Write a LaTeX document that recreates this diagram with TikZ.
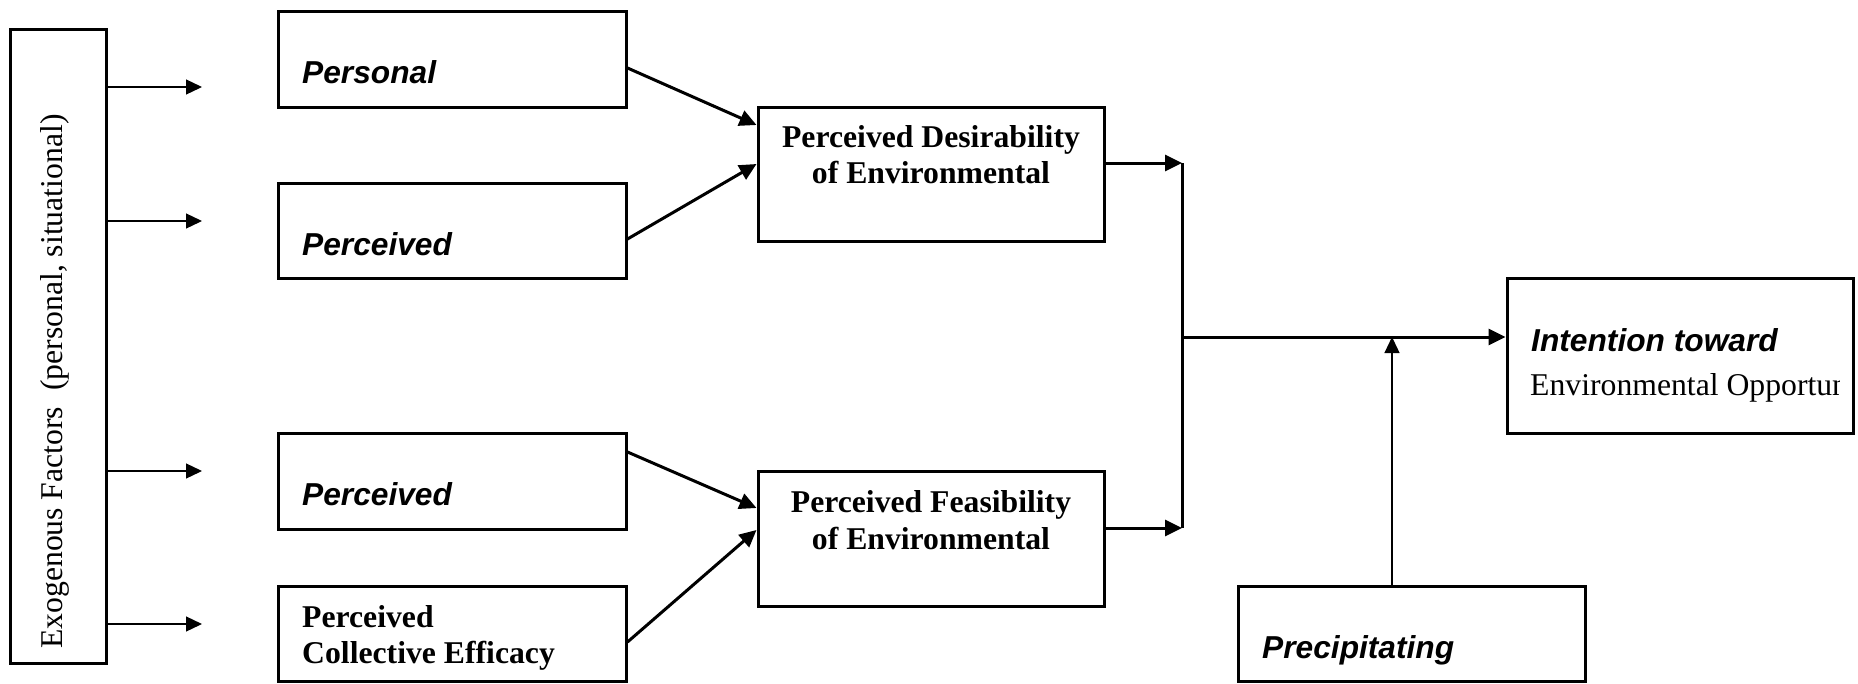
\documentclass[tikz,border=0pt]{standalone}
\usepackage{fontspec}
\setmainfont{Liberation Serif}
\setsansfont{Liberation Sans}
\usetikzlibrary{arrows.meta}
\begin{document}
\begin{tikzpicture}[x=1pt,y=-1pt,
  box/.style={draw,line width=3pt,rectangle,inner sep=0pt},
  sansit/.style={font=\fontsize{31.7pt}{36pt}\selectfont\sffamily\bfseries\itshape,inner sep=0pt},
  serifb/.style={font=\fontsize{31.7pt}{36pt}\selectfont\bfseries,inner sep=0pt},
  serifr/.style={font=\fontsize{31.7pt}{36pt}\selectfont,inner sep=0pt},
  thinarrow/.style={line width=1.3pt,-{Triangle[length=16pt,width=15pt]}},
  thickarrow/.style={line width=3pt,-{Triangle[length=17pt,width=16pt]}},
  thickline/.style={line width=3pt},
]
\useasboundingbox (0,0) rectangle (1858,683);

% boxes
\node[box,minimum width=96pt,minimum height=634pt] (exog) at (58,346) {};
\node[box,minimum width=348pt,minimum height=96pt] (personal) at (452,59) {};
\node[box,minimum width=348pt,minimum height=95pt] (perc1) at (452,230.5) {};
\node[box,minimum width=348pt,minimum height=96pt] (perc2) at (452,481) {};
\node[box,minimum width=348pt,minimum height=95pt] (coll) at (452,633.5) {};
\node[box,minimum width=346pt,minimum height=134pt] (pd) at (931,174) {};
\node[box,minimum width=346pt,minimum height=135pt] (pf) at (931,538.5) {};
\node[box,minimum width=346pt,minimum height=155pt] (intent) at (1680,355.5) {};
\node[box,minimum width=347pt,minimum height=95pt] (precip) at (1411.5,633.5) {};

% texts
\node[serifr,rotate=90,anchor=base west] (exogT) at (62,649) {Exogenous Factors\ \ (personal, situational)};
\node[sansit,anchor=base west] (personalT) at (302,83) {Personal};
\node[sansit,anchor=base west] (perc1T) at (302,255) {Perceived};
\node[sansit,anchor=base west] (perc2T) at (302,505) {Perceived};
\node[serifb,anchor=base west] (collTa) at (302,627) {Perceived};
\node[serifb,anchor=base west] (collTb) at (302,663) {Collective Efficacy};
\node[serifb,anchor=base] (pdTa) at (931,147) {Perceived Desirability};
\node[serifb,anchor=base] (pdTb) at (931,183) {of Environmental};
\node[serifb,anchor=base] (pfTa) at (931,512) {Perceived Feasibility};
\node[serifb,anchor=base] (pfTb) at (931,549) {of Environmental};
\node[sansit,anchor=base west] (intentTa) at (1531,351) {Intention toward};
\begin{scope}
  \clip (1507,278) rectangle (1839,433);
  \node[serifr,anchor=base west] (intentTb) at (1530,395) {Environmental Opportunity};
\end{scope}
\node[sansit,anchor=base west] (precipT) at (1262,658) {Precipitating};

% free ends of exogenous arrows
\coordinate (e1) at (202,87);
\coordinate (e2) at (202,221);
\coordinate (e3) at (202,471);
\coordinate (e4) at (202,624);
\draw[thinarrow] (exog.east |- e1) -- (e1);
\draw[thinarrow] (exog.east |- e2) -- (e2);
\draw[thinarrow] (exog.east |- e3) -- (e3);
\draw[thinarrow] (exog.east |- e4) -- (e4);

% diagonal arrows
\draw[thickarrow] (personal.east |- 0,68) -- (pd.west |- 0,125);
\draw[thickarrow] (perc1.east |- 0,239) -- (pd.west |- 0,164);
\draw[thickarrow] (perc2.east |- 0,452) -- (pf.west |- 0,508);
\draw[thickarrow] (coll.east |- 0,642) -- (pf.west |- 0,530);

% junction
\coordinate (j1) at (1182,163);
\coordinate (j2) at (1182,528);
\coordinate (jm) at (1182,337);
\coordinate (pm) at (1392,337);
\draw[thickarrow] (pd.east |- j1) -- (j1);
\draw[thickarrow] (pf.east |- j2) -- (j2);
\draw[thickline] (j1) -- (j2);
\draw[thickarrow] (jm) -- (intent.west |- jm);
\draw[thinarrow] (precip.north -| pm) -- (pm);
\end{tikzpicture}
\end{document}
